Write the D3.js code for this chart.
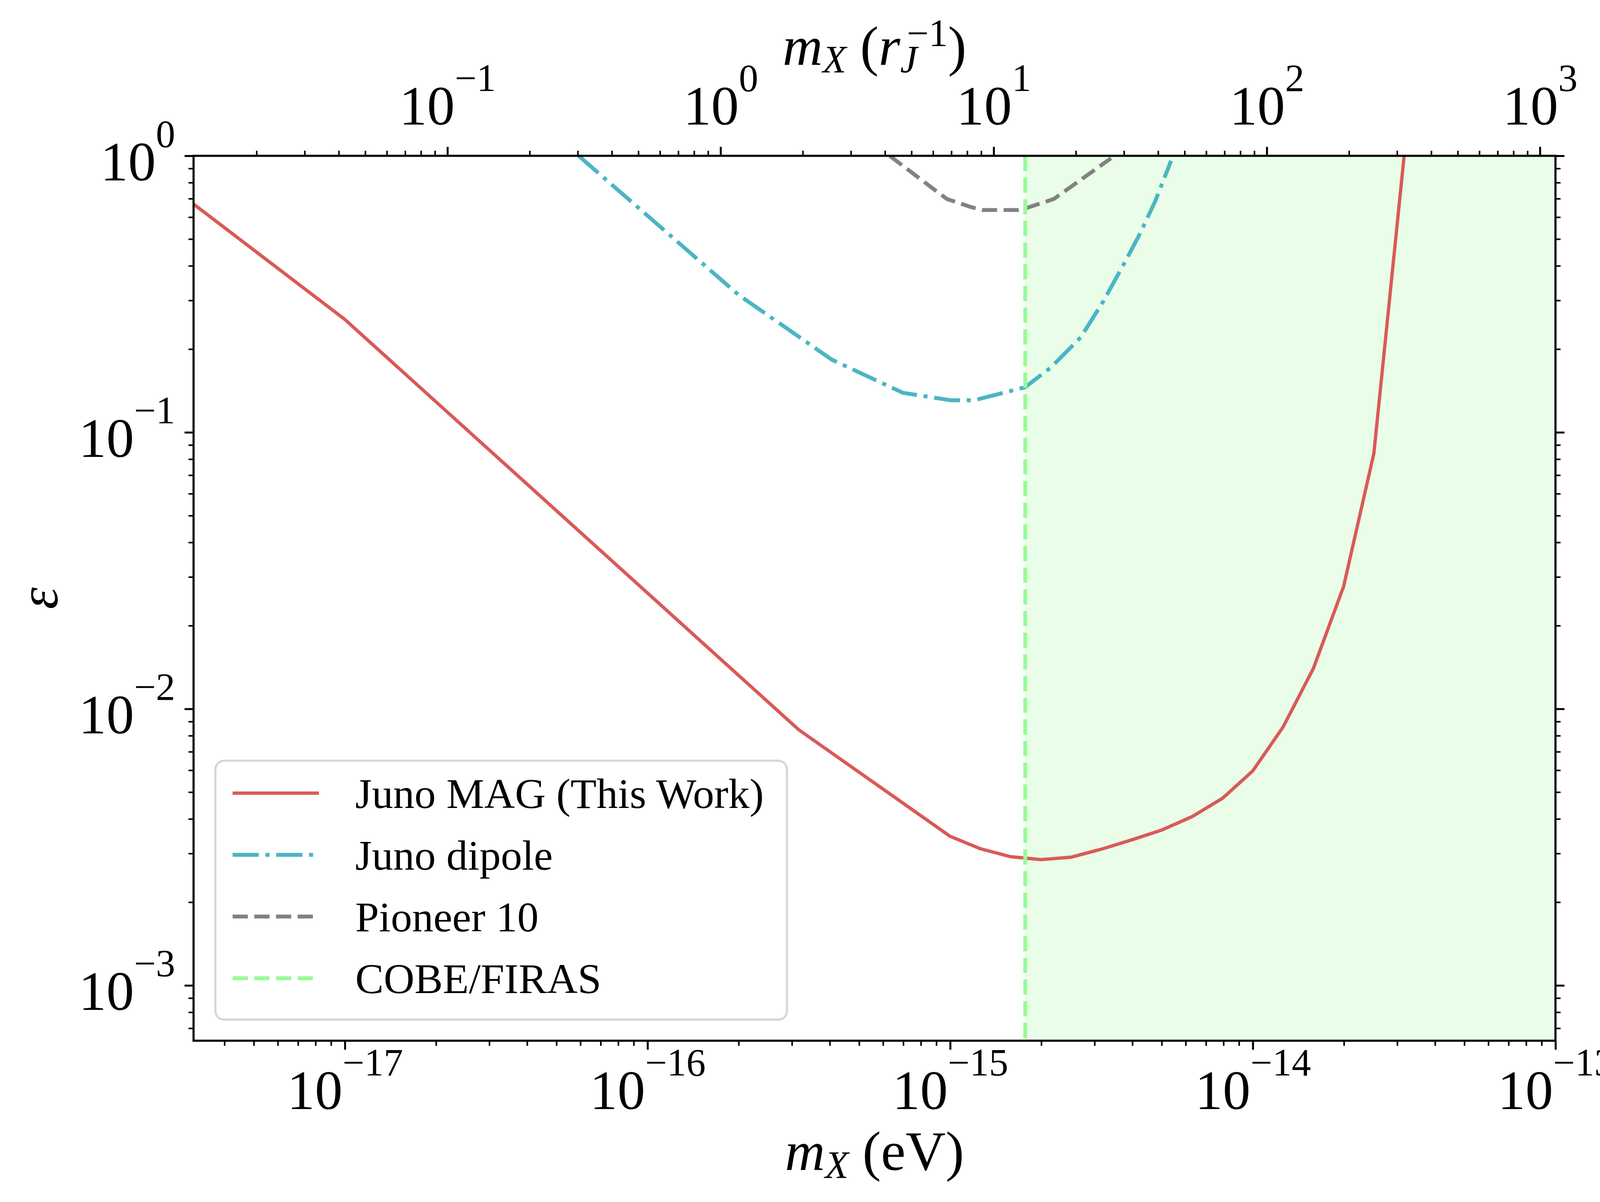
<!DOCTYPE html>
<html>
<head>
<meta charset="utf-8">
<script src="https://cdn.jsdelivr.net/npm/d3@7"></script>
<style>
  body { margin: 0; background: #fff; }
  svg { display: block; font-family: "Liberation Serif", "Times New Roman", serif; }
</style>
</head>
<body>
<div id="chart"></div>
<script>
// values: dark photon mass (eV) vs kinetic mixing epsilon
var junoMagMass = [3.162e-18, 1e-17, 3.162e-16, 1e-15, 1.259e-15, 1.585e-15, 1.995e-15, 2.512e-15, 3.162e-15, 3.981e-15, 5.012e-15, 6.310e-15, 7.943e-15, 1e-14, 1.259e-14, 1.585e-14, 1.995e-14, 2.512e-14, 3.162e-14];
var junoMagEps  = [0.669, 0.256, 0.0084, 0.00346, 0.00312, 0.00292, 0.00285, 0.00291, 0.00311, 0.00336, 0.00365, 0.00408, 0.00475, 0.00597, 0.0086, 0.0140, 0.0277, 0.084, 1.0];

var dipoleMass = [5.92e-17, 2.0e-16, 4.07e-16, 6.98e-16, 1.005e-15, 1.20e-15, 1.766e-15, 2.15e-15, 2.70e-15, 3.20e-15, 3.78e-15, 4.20e-15, 4.75e-15, 5.37e-15];
var dipoleEps  = [1.0, 0.314, 0.183, 0.139, 0.1306, 0.1306, 0.1455, 0.1715, 0.2206, 0.2967, 0.413, 0.513, 0.682, 0.96];

var pioneerMass = [6.31e-16, 9.75e-16, 1.175e-15, 1.28e-15, 1.675e-15, 1.766e-15, 2.20e-15, 3.40e-15];
var pioneerEps  = [1.0, 0.698, 0.652, 0.637, 0.637, 0.645, 0.698, 0.98];

var cobeMass = 1.77e-15;

// axis limits and ticks
var xLim = [3.162e-18, 1e-13];
var yLim = [6.31e-4, 1];
var topLim = [0.01176, 1140];          // m_X in units of 1/r_J
var xExps = [-17, -16, -15, -14, -13];
var yExps = [-3, -2, -1, 0];
var topExps = [-1, 0, 1, 2, 3];

var legendLabels = ["Juno MAG (This Work)", "Juno dipole", "Pioneer 10", "COBE/FIRAS"];

var W = 4176, H = 3078;
var margin = {top: 399, left: 495.5, right: 194, bottom: 413};
var pw = W - margin.left - margin.right,
    ph = H - margin.top - margin.bottom;

var colRed = "#d95a57", colCyan = "#4bb5c3", colGrey = "#828282", colGreen = "#98fb98";
var lwRed = 8.5, lwOther = 10;
var dashed = "39,16.5", dashdot = "67,17,10.5,17";
var fs = 142, fsSup = 99, fsLeg = 109;

var x = d3.scaleLog().domain(xLim).range([0, pw]);
var xTop = d3.scaleLog().domain(topLim).range([0, pw]);
var y = d3.scaleLog().domain(yLim).range([ph, 0]);

function minors(scale) {
  var d = scale.domain(), out = [];
  var lo = Math.floor(Math.log10(d[0])), hi = Math.ceil(Math.log10(d[1]));
  for (var k = lo; k < hi; k++) {
    for (var m = 2; m < 10; m++) {
      var v = m * Math.pow(10, k);
      if (v >= d[0] && v <= d[1]) out.push(v);
    }
  }
  return out;
}
function pows(exps) { return exps.map(function(e) { return Math.pow(10, e); }); }
function expText(d) {
  var e = Math.round(Math.log10(d));
  return (e < 0 ? "\u2212" : "") + Math.abs(e);
}

var svg = d3.select("#chart").append("svg")
    .attr("width", W)
    .attr("height", H);
svg.append("rect").attr("width", W).attr("height", H).attr("fill", "#fff");

var g = svg.append("g")
    .attr("transform", "translate(" + margin.left + "," + margin.top + ")");

g.append("clipPath").attr("id", "plotclip")
  .append("rect").attr("width", pw).attr("height", ph);

// COBE/FIRAS excluded region
g.append("rect")
    .attr("x", x(cobeMass))
    .attr("y", 0)
    .attr("width", x(xLim[1]) - x(cobeMass))
    .attr("height", ph)
    .attr("fill", "#e9fde9");

var line = d3.line()
    .x(function(d) { return x(d[0]); })
    .y(function(d) { return y(d[1]); });

var plot = g.append("g").attr("clip-path", "url(#plotclip)");

plot.append("path")
    .datum(d3.zip(junoMagMass, junoMagEps))
    .attr("d", line)
    .attr("fill", "none")
    .attr("stroke", colRed)
    .attr("stroke-width", lwRed)
    .attr("stroke-linejoin", "round");

plot.append("path")
    .datum(d3.zip(dipoleMass, dipoleEps))
    .attr("d", line)
    .attr("fill", "none")
    .attr("stroke", colCyan)
    .attr("stroke-width", lwOther)
    .attr("stroke-dasharray", dashdot);

plot.append("path")
    .datum(d3.zip(pioneerMass, pioneerEps))
    .attr("d", line)
    .attr("fill", "none")
    .attr("stroke", colGrey)
    .attr("stroke-width", lwOther)
    .attr("stroke-dasharray", dashed);

plot.append("line")
    .attr("x1", x(cobeMass)).attr("x2", x(cobeMass))
    .attr("y1", y(yLim[1])).attr("y2", y(yLim[0]))
    .attr("stroke", colGreen)
    .attr("stroke-width", lwOther)
    .attr("stroke-dasharray", dashed);

// axes
function styleAxis(sel, w) {
  sel.attr("font-size", fs).attr("font-family", null);
  sel.select(".domain").remove();
  sel.selectAll(".tick line").attr("stroke-width", w);
}
function powLabels(sel, xAttr, yAttr, anchor) {
  sel.selectAll(".tick text").each(function(d) {
    var t = d3.select(this);
    t.text(null).attr("dy", null).attr("x", xAttr).attr("y", yAttr)
      .attr("text-anchor", anchor).attr("fill", "#000");
    t.append("tspan").text("10");
    t.append("tspan").attr("dy", -86).attr("font-size", fsSup).text(expText(d));
  });
}

var gb = g.append("g").attr("transform", "translate(0," + ph + ")");
gb.append("g").call(d3.axisBottom(x).tickValues(minors(x)).tickSize(13).tickFormat("")).call(styleAxis, 4);
gb.append("g").call(d3.axisBottom(x).tickValues(pows(xExps)).tickSize(23)).call(styleAxis, 5)
  .call(powLabels, 0, 175, "middle");

var gt = g.append("g");
gt.append("g").call(d3.axisTop(xTop).tickValues(minors(xTop)).tickSize(13).tickFormat("")).call(styleAxis, 4);
gt.append("g").call(d3.axisTop(xTop).tickValues(pows(topExps)).tickSize(23)).call(styleAxis, 5)
  .call(powLabels, 0, -80, "middle");

var gl = g.append("g");
gl.append("g").call(d3.axisLeft(y).tickValues(minors(y)).tickSize(13).tickFormat("")).call(styleAxis, 4);
gl.append("g").call(d3.axisLeft(y).tickValues(pows(yExps)).tickSize(23)).call(styleAxis, 5)
  .call(powLabels, -47, 62, "end");

var gr = g.append("g").attr("transform", "translate(" + pw + ",0)");
gr.append("g").call(d3.axisRight(y).tickValues(minors(y)).tickSize(13).tickFormat("")).call(styleAxis, 4);
gr.append("g").call(d3.axisRight(y).tickValues(pows(yExps)).tickSize(23).tickFormat("")).call(styleAxis, 5);

g.append("rect")
    .attr("width", pw)
    .attr("height", ph)
    .attr("fill", "none")
    .attr("stroke", "#000")
    .attr("stroke-width", 5.4);

// axis labels
var xl = svg.append("text")
    .attr("x", margin.left + pw / 2)
    .attr("y", 2996)
    .attr("text-anchor", "middle")
    .attr("font-size", fs);
xl.append("tspan").attr("font-style", "italic").text("m");
xl.append("tspan").attr("font-style", "italic").attr("font-size", fsSup).attr("dy", 20).text("X");
xl.append("tspan").attr("dy", -20).text(" (eV)");

var tl = svg.append("text")
    .attr("x", margin.left + pw / 2)
    .attr("y", 166)
    .attr("text-anchor", "middle")
    .attr("font-size", fs);
tl.append("tspan").attr("font-style", "italic").text("m");
tl.append("tspan").attr("font-style", "italic").attr("font-size", fsSup).attr("dy", 19).text("X");
tl.append("tspan").attr("dy", -19).text(" (");
tl.append("tspan").attr("font-style", "italic").text("r");
tl.append("tspan").attr("font-style", "italic").attr("font-size", fsSup).attr("dy", 19).text("J");
tl.append("tspan").attr("font-size", fsSup).attr("dx", -27).attr("dy", -67).text("\u22121");
tl.append("tspan").attr("dy", 48).text(")");

svg.append("text")
    .attr("transform", "translate(147," + (margin.top + ph / 2) + ") rotate(-90)")
    .attr("text-anchor", "middle")
    .attr("font-size", fs)
    .attr("font-style", "italic")
    .text("\u03b5");

// legend
var legStyles = [
  {color: colRed, width: lwRed, dash: null},
  {color: colCyan, width: lwOther, dash: dashdot},
  {color: colGrey, width: lwOther, dash: dashed},
  {color: colGreen, width: lwOther, dash: dashed}
];
var leg = g.append("g")
    .attr("transform", "translate(56," + (ph - 54 - 663) + ")");
leg.append("rect")
    .attr("width", 1463)
    .attr("height", 663)
    .attr("rx", 22)
    .attr("fill", "#fff")
    .attr("fill-opacity", 0.8)
    .attr("stroke", "#d6d6d6")
    .attr("stroke-width", 5.4);

var rows = leg.selectAll(".row")
    .data(legendLabels)
  .enter().append("g")
    .attr("class", "row")
    .attr("transform", function(d, i) { return "translate(0," + (83 + i * 158) + ")"; });
rows.append("line")
    .attr("x1", 44).attr("x2", 265)
    .attr("stroke", function(d, i) { return legStyles[i].color; })
    .attr("stroke-width", function(d, i) { return legStyles[i].width; })
    .attr("stroke-dasharray", function(d, i) { return legStyles[i].dash; });
rows.append("text")
    .attr("x", 358)
    .attr("y", 38)
    .attr("font-size", fsLeg)
    .text(function(d) { return d; });
</script>
</body>
</html>
